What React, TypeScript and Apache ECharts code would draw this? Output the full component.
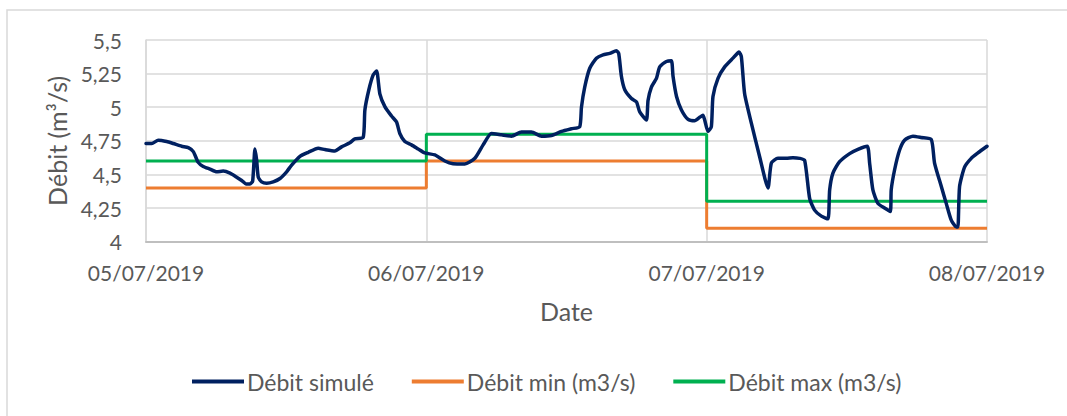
import React, { useEffect, useRef } from "react";
import * as echarts from "echarts";

const dateLabels = ["05/07/2019", "06/07/2019", "07/07/2019", "08/07/2019"];

// hours elapsed since 05/07/2019 00:00
const hours = [
  0.0, 0.49, 1.05, 1.77, 2.34, 3.05, 3.62, 4.05, 4.47, 4.9, 5.48, 6.05, 6.61, 7.19, 7.76, 8.19, 8.56, 8.9, 9.13,
  9.33, 9.47, 9.61, 9.9, 10.33, 10.89, 11.47, 12.04, 12.47, 13.18, 13.89, 14.74, 15.32, 16.17, 16.74, 17.45,
  17.88, 18.59, 18.74, 19.08, 19.45, 19.74, 20.02, 20.45, 21.02, 21.45, 21.73, 22.16, 22.73, 23.3, 23.87,
  24.73, 25.58, 26.29, 27.29, 28.15, 28.86, 29.57, 30.43, 31.29, 32.14, 33.0, 33.86, 34.71, 35.57, 36.42,
  37.13, 37.28, 37.56, 37.99, 38.56, 39.13, 39.7, 40.27, 40.47, 40.7, 40.99, 41.56, 41.99, 42.27, 42.84,
  42.98, 43.27, 43.7, 43.98, 44.55, 44.98, 45.12, 45.42, 45.84, 46.41, 46.97, 47.4, 47.68, 47.83, 48.11,
  48.4, 48.54, 48.97, 49.54, 50.25, 50.77, 50.97, 51.25, 51.83, 52.54, 53.25, 53.54, 54.1, 54.82, 55.39,
  55.96, 56.39, 56.82, 57.24, 57.82, 58.38, 58.53, 58.81, 59.38, 60.24, 60.95, 61.75, 61.95, 62.23, 62.66,
  63.23, 63.72, 63.8, 64.09, 64.51, 64.94, 65.66, 66.37, 67.23, 67.51, 68.09, 68.51, 68.94, 69.37, 69.51,
  69.65, 70.08, 70.65, 71.22, 72.0,
];

const debitSimule = [
  4.73, 4.73, 4.755, 4.745, 4.73, 4.71, 4.7, 4.67, 4.59, 4.56, 4.54, 4.52, 4.525, 4.51, 4.48, 4.455, 4.43, 4.43, 4.45,
  4.69, 4.61, 4.48, 4.445, 4.435, 4.445, 4.47, 4.52, 4.57, 4.635, 4.665, 4.695, 4.685, 4.675, 4.705, 4.735,
  4.765, 4.775, 4.98, 5.13, 5.24, 5.27, 5.1, 5.005, 4.935, 4.89, 4.805, 4.745, 4.72, 4.69, 4.66,
  4.645, 4.6, 4.58, 4.578, 4.62, 4.72, 4.805, 4.795, 4.785, 4.815, 4.815, 4.785, 4.79, 4.82, 4.84,
  4.855, 5.0, 5.15, 5.29, 5.365, 5.39, 5.4, 5.42, 5.4, 5.23, 5.13, 5.065, 5.04, 4.965, 4.905,
  5.05, 5.15, 5.215, 5.3, 5.34, 5.345, 5.23, 5.08, 4.98, 4.91, 4.9, 4.925, 4.94, 4.905, 4.82,
  4.855, 5.08, 5.215, 5.3, 5.365, 5.41, 5.375, 5.1, 4.88, 4.63, 4.4, 4.585, 4.62, 4.62, 4.625,
  4.62, 4.605, 4.32, 4.235, 4.19, 4.17, 4.385, 4.51, 4.595, 4.655, 4.687, 4.71, 4.585, 4.385, 4.285,
  4.25, 4.225, 4.385, 4.535, 4.68, 4.755, 4.785, 4.775, 4.76, 4.585, 4.41, 4.285, 4.16, 4.11, 4.11,
  4.41, 4.555, 4.62, 4.66, 4.71,
];

const dayStarts = [0, 24, 48, 72];
const debitMin = [4.4, 4.6, 4.1, 4.1];
const debitMax = [4.6, 4.8, 4.3, 4.3];

const FONT = "Lato";

export default function App() {
  const ref = useRef<HTMLDivElement>(null);

  useEffect(() => {
    if (!ref.current) return;
    const chart = echarts.init(ref.current, undefined, { renderer: "svg" });
    const simData = hours.map((h, i) => [h, debitSimule[i]]);
    const minData = dayStarts.map((h, i) => [h, debitMin[i]]);
    const maxData = dayStarts.map((h, i) => [h, debitMax[i]]);

    chart.setOption({
      animation: false,
      backgroundColor: "#ffffff",
      textStyle: { fontFamily: FONT },
      graphic: [
        {
          type: "rect",
          shape: { x: 7, y: 10, width: 1200, height: 600 },
          style: { fill: "none", stroke: "#d9d9d9", lineWidth: 1.5 },
          silent: true,
          z: -10,
        },
      ],
      grid: { left: 146, right: 80, top: 40, bottom: 174.3, containLabel: false },
      legend: {
        bottom: 18,
        left: 187,
        icon: "rect",
        itemWidth: 52,
        itemHeight: 4,
        itemGap: 38,
        textStyle: { fontFamily: FONT, fontSize: 23, color: "#595959", padding: [0, 0, 0, -2] },
        data: ["Débit simulé", "Débit min (m3/s)", "Débit max (m3/s)"],
      },
      xAxis: {
        type: "value",
        min: 0,
        max: 72,
        interval: 24,
        name: "Date",
        nameLocation: "middle",
        nameGap: 57,
        nameTextStyle: { fontFamily: FONT, fontSize: 25, color: "#595959" },
        axisLine: { show: true, lineStyle: { color: "#bfbfbf", width: 2 } },
        axisTick: { show: false },
        splitLine: { show: true, lineStyle: { color: "#d9d9d9", width: 1.5 } },
        axisLabel: {
          margin: 20,
          fontFamily: FONT,
          fontSize: 21,
          color: "#595959",
          formatter: (v: number) => dateLabels[Math.round(v / 24)] ?? "",
        },
      },
      yAxis: {
        type: "value",
        min: 4,
        max: 5.5,
        interval: 0.25,
        name: "Débit (m³/s)",
        nameLocation: "middle",
        nameGap: 62,
        nameTextStyle: { fontFamily: FONT, fontSize: 25, color: "#595959" },
        axisLine: { show: true, lineStyle: { color: "#d9d9d9", width: 1.5 } },
        axisTick: { show: false },
        splitLine: { show: true, lineStyle: { color: "#d9d9d9", width: 1.5 } },
        axisLabel: {
          margin: 24,
          fontFamily: FONT,
          fontSize: 21,
          color: "#595959",
          formatter: (v: number) => String(Math.round(v * 100) / 100).replace(".", ","),
        },
      },
      series: [
        {
          name: "Débit simulé",
          type: "line",
          data: simData,
          showSymbol: false,
          smooth: 0.2,
          z: 5,
          lineStyle: { color: "#002060", width: 3.5, cap: "round", join: "round" },
          itemStyle: { color: "#002060" },
        },
        {
          name: "Débit min (m3/s)",
          type: "line",
          data: minData,
          step: "end",
          showSymbol: false,
          z: 3,
          lineStyle: { color: "#ED7D31", width: 3 },
          itemStyle: { color: "#ED7D31" },
        },
        {
          name: "Débit max (m3/s)",
          type: "line",
          data: maxData,
          step: "end",
          showSymbol: false,
          z: 4,
          lineStyle: { color: "#00B050", width: 3 },
          itemStyle: { color: "#00B050" },
        },
      ],
    });
    return () => chart.dispose();
  }, []);

  return (
    <div
      ref={ref}
      style={{ position: "fixed", left: 0, top: 0, width: 1067, height: 416, background: "#fff" }}
    />
  );
}
